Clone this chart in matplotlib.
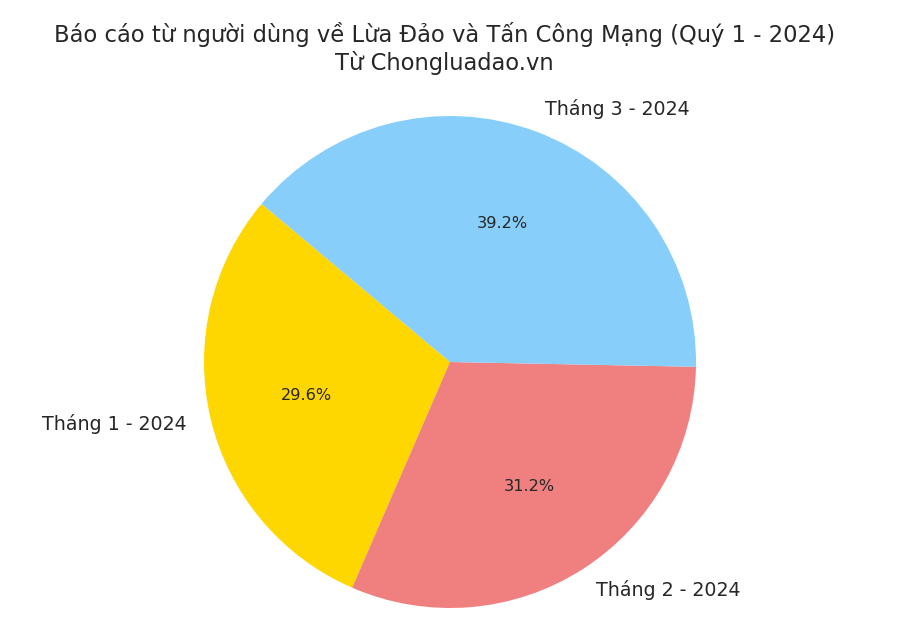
import matplotlib
matplotlib.use('Agg')
import matplotlib.pyplot as plt

# Monthly share of user reports (Q1 2024)
labels = ['Tháng 1 - 2024', 'Tháng 2 - 2024', 'Tháng 3 - 2024']
shares = [29.6, 31.2, 39.2]
colors = ['#FFD700', '#F08080', '#87CEFA']

text_color = '#262626'
plt.rcParams['font.family'] = ['DejaVu Sans']

fig = plt.figure(figsize=(9, 6.29), dpi=100)
ax = fig.add_axes([0, 0, 1, 1])

wedges, texts, autotexts = ax.pie(shares, labels=labels, colors=colors,
                                  autopct='%1.1f%%', startangle=140,
                                  textprops={'color': text_color, 'fontsize': 13.7})
for t in autotexts:
    t.set_fontsize(11.6)

# pie centre at (450, 362) px from top-left, radius ~246 px
r = 246.0
ax.set_xlim(-450 / r, 450 / r)
ax.set_ylim(-(629 - 362) / r, 362 / r)
ax.set_aspect('auto')
ax.axis('off')

fig.text(444.5 / 900, 1 - 48.5 / 629,
         'Báo cáo từ người dùng về Lừa Đảo và Tấn Công Mạng (Quý 1 - 2024)\nTừ Chongluadao.vn',
         ha='center', va='center', fontsize=16.3, color=text_color, linespacing=1.25)

fig.savefig('out.png', dpi=100)
plt.close(fig)
